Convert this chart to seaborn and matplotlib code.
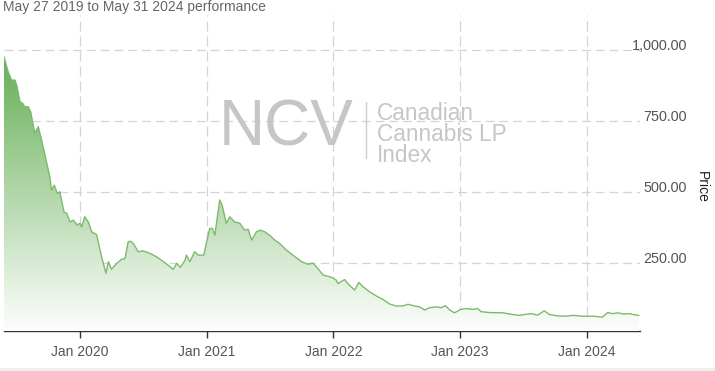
import numpy as np
import pandas as pd
import matplotlib
matplotlib.use("Agg")
import matplotlib.pyplot as plt
import matplotlib.dates as mdates
from matplotlib.colors import LinearSegmentedColormap
from matplotlib.lines import Line2D
from matplotlib.patches import Rectangle
from matplotlib.ticker import FuncFormatter
import seaborn as sns

title = "May 27 2019 to May 31 2024 performance"
y_label = "Price"
ytick_values = [250, 500, 750, 1000]
xtick_dates = ["2020-01-01", "2021-01-01", "2022-01-01", "2023-01-01", "2024-01-01"]

dates = [
    "2019-05-27", "2019-06-08", "2019-06-18", "2019-06-28", "2019-07-04", "2019-07-12",
    "2019-07-20", "2019-07-26", "2019-08-05", "2019-08-12", "2019-08-24", "2019-09-03",
    "2019-09-17", "2019-10-06", "2019-10-11", "2019-10-19", "2019-10-28", "2019-11-04",
    "2019-11-16", "2019-11-24", "2019-12-03", "2019-12-13", "2019-12-24", "2020-01-01",
    "2020-01-06", "2020-01-15", "2020-01-25", "2020-02-04", "2020-02-18", "2020-02-28",
    "2020-03-06", "2020-03-16", "2020-03-23", "2020-04-01", "2020-04-16", "2020-04-30",
    "2020-05-10", "2020-05-19", "2020-05-26", "2020-06-03", "2020-06-17", "2020-07-01",
    "2020-07-21", "2020-08-09", "2020-08-23", "2020-09-11", "2020-09-26", "2020-10-06",
    "2020-10-17", "2020-10-30", "2020-11-03", "2020-11-13", "2020-11-27", "2020-12-07",
    "2020-12-23", "2021-01-09", "2021-01-17", "2021-01-24", "2021-02-07", "2021-02-14",
    "2021-02-26", "2021-03-08", "2021-03-22", "2021-04-06", "2021-04-20", "2021-04-30",
    "2021-05-10", "2021-05-24", "2021-06-04", "2021-06-17", "2021-07-01", "2021-07-16",
    "2021-07-30", "2021-08-18", "2021-09-06", "2021-10-01", "2021-10-20", "2021-11-03",
    "2021-11-17", "2021-12-02", "2021-12-21", "2022-01-02", "2022-01-09", "2022-01-14",
    "2022-02-02", "2022-02-16", "2022-03-03", "2022-03-15", "2022-03-27", "2022-04-15",
    "2022-05-05", "2022-05-24", "2022-06-12", "2022-07-01", "2022-07-20", "2022-08-04",
    "2022-08-23", "2022-09-06", "2022-09-21", "2022-10-05", "2022-10-25", "2022-11-08",
    "2022-11-20", "2022-12-02", "2022-12-16", "2023-01-03", "2023-01-19", "2023-02-07",
    "2023-02-21", "2023-03-03", "2023-03-27", "2023-05-05", "2023-06-02", "2023-06-21",
    "2023-07-06", "2023-07-25", "2023-08-13", "2023-09-01", "2023-09-16", "2023-10-10",
    "2023-11-03", "2023-11-22", "2023-12-21", "2024-01-19", "2024-02-16", "2024-03-02",
    "2024-03-16", "2024-03-31", "2024-04-14", "2024-05-04", "2024-05-14", "2024-05-31",
]

prices = [
    976, 923, 894, 894, 870, 818,
    812, 800, 800, 782, 707, 730,
    659, 554, 507, 524, 495, 501,
    430, 425, 395, 401, 384, 390,
    377, 413, 395, 360, 350, 296,
    260, 214, 255, 228, 249, 263,
    266, 325, 327, 319, 290, 293,
    284, 272, 260, 243, 228, 249,
    235, 260, 278, 255, 290, 278,
    278, 372, 372, 348, 472, 454,
    390, 413, 395, 390, 366, 369,
    331, 360, 366, 360, 348, 331,
    319, 296, 278, 255, 246, 250,
    231, 208, 202, 196, 190, 178,
    192, 172, 155, 182, 167, 149,
    134, 122, 106, 99, 99, 105,
    99, 96, 85, 93, 96, 93,
    100, 85, 75, 87, 90, 87,
    90, 79, 76, 75, 69, 66,
    69, 72, 67, 82, 69, 64,
    63, 66, 63, 63, 60, 76,
    72, 75, 71, 72, 69, 66,
]

df = pd.DataFrame({"date": pd.to_datetime(dates), "price": prices})

sns.set_theme(style="white")
plt.rcParams["font.family"] = ["Liberation Sans", "DejaVu Sans"]

W, H = 715, 371
fig = plt.figure(figsize=(W / 100, H / 100), dpi=100)
fig.patch.set_facecolor("white")
ax = fig.add_axes([4 / W, 40 / H, 636 / W, 316 / H])
ax.set_facecolor("white")

sns.lineplot(data=df, x="date", y="price", ax=ax, color="#7dba6e", linewidth=1.0, zorder=4)

ymin, ymax = 11, 1123
xmin = mdates.date2num(df["date"].min())
xmax = mdates.date2num(pd.Timestamp("2024-06-03"))

# gradient area under the line
poly = ax.fill_between(df["date"], df["price"], 0, facecolor="none", edgecolor="none")
cmap = LinearSegmentedColormap.from_list("g", ["#ffffff", "#62ad51"])
grad = np.linspace(1, 0, 256).reshape(-1, 1)
im = ax.imshow(grad, extent=[xmin, xmax, 0, 1000], origin="upper", aspect="auto",
               cmap=cmap, vmin=0, vmax=1, zorder=3)
im.set_clip_path(poly.get_paths()[0], transform=ax.transData)

ax.set_xlim(xmin, xmax)
ax.set_ylim(ymin, ymax)

# grid
ax.set_yticks(ytick_values)
ax.set_xticks(pd.to_datetime(xtick_dates))
ax.yaxis.grid(True, color="#d4d4d4", linestyle=(0, (7, 4)), linewidth=0.9, zorder=1)
ax.xaxis.grid(True, color="#d4d4d4", linestyle=(0, (8, 4)), linewidth=0.9, zorder=1)
ax.set_axisbelow(True)

# y axis on right
ax.yaxis.tick_right()
ax.yaxis.set_major_formatter(FuncFormatter(lambda v, p: f"{v:,.2f}"))
ax.tick_params(axis="y", length=0, pad=34, labelsize=10.4, labelcolor="#555555")
for lab in ax.get_yticklabels():
    lab.set_horizontalalignment("right")
    lab.set_verticalalignment("baseline")

ax.xaxis.set_major_formatter(mdates.DateFormatter("%b %Y"))
ax.tick_params(axis="x", length=5, width=1, color="#333333", pad=5,
               labelsize=10, labelcolor="#555555", bottom=True)
ax.set_xlabel("")
ax.set_ylabel("")

for s in ["left", "right", "top"]:
    ax.spines[s].set_visible(False)
ax.spines["bottom"].set_color("#333333")
ax.spines["bottom"].set_linewidth(1.0)

# texts
fig.text(3 / W, 1 - 0.5 / H, title, ha="left", va="top", fontsize=10, color="#666666")
fig.text(702 / W, 1 - 187 / H, y_label, rotation=270, ha="center", va="center",
         fontsize=10, color="#222222")

# watermark
fig.text(219 / W, 1 - 146 / H, "NCV", ha="left", va="baseline", fontsize=46, color="#c6c6c6")
fig.add_artist(Line2D([366 / W, 366 / W], [1 - 102 / H, 1 - 158 / H], color="#cccccc", lw=1))
fig.text(377 / W, 1 - 102 / H, "Canadian\nCannabis LP\nIndex", ha="left", va="top",
         fontsize=16.3, color="#c6c6c6", linespacing=0.88)

# bottom light band
fig.add_artist(Rectangle((0, 0), 1, 3 / H, transform=fig.transFigure, color="#efefef", lw=0))

fig.savefig("out.png", dpi=100)
